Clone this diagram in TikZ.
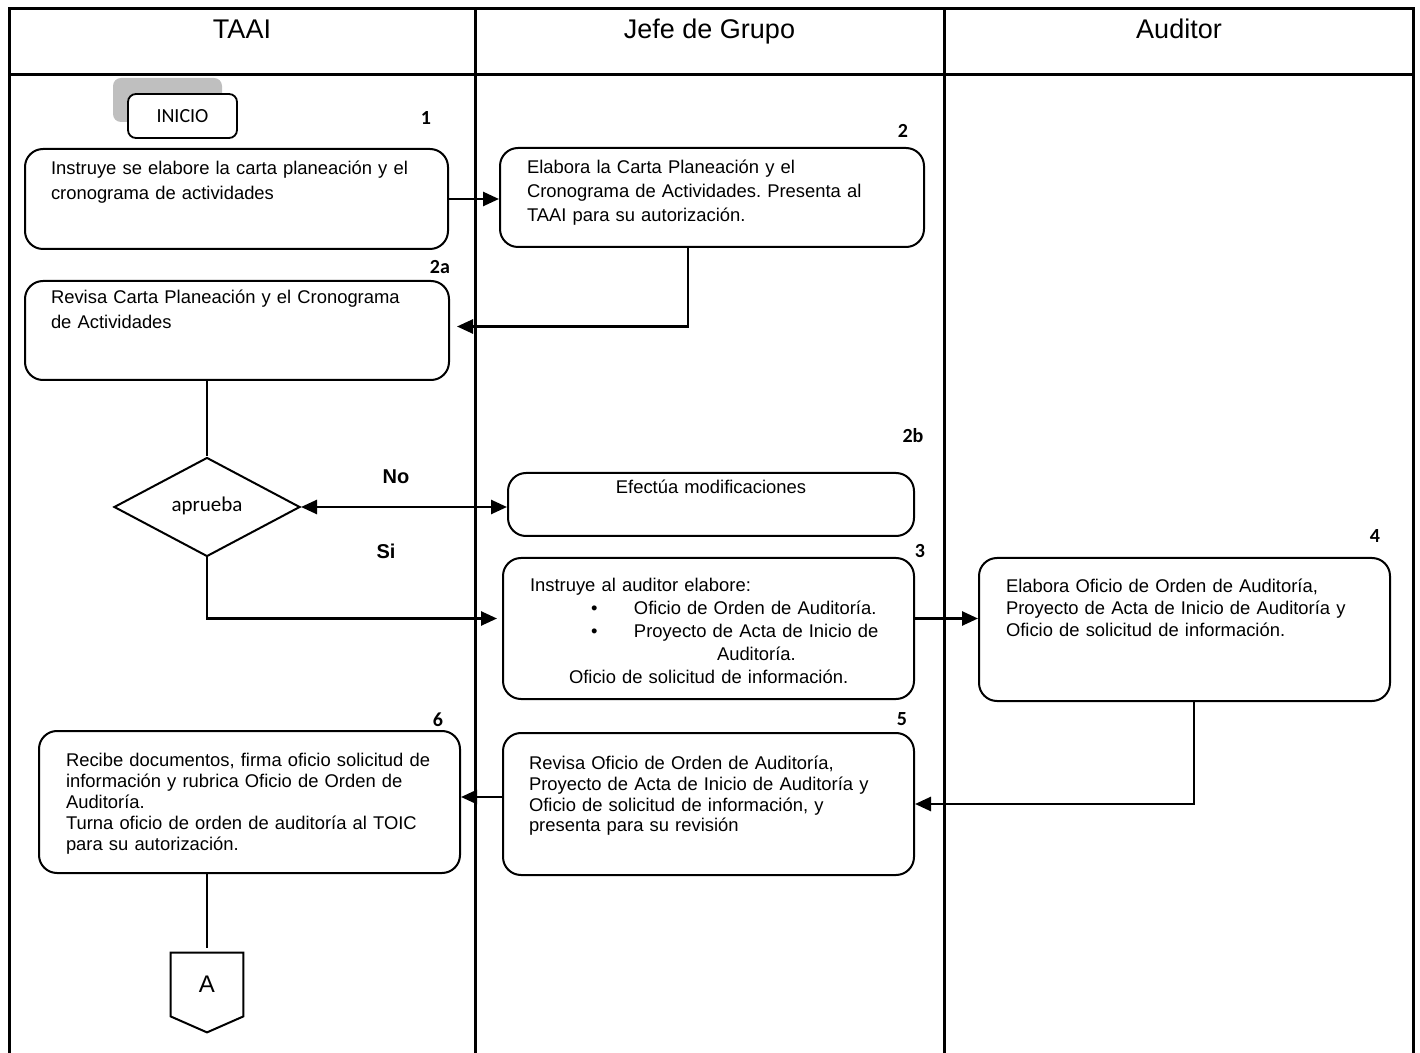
\documentclass[tikz,border=0pt]{standalone}
\usepackage{fontspec}
\setmainfont{Liberation Sans}
\newfontfamily\calibri{Carlito}
\frenchspacing
\usetikzlibrary{shapes.geometric, arrows.meta, shadows}
\tikzstyle{lane} = [line width=1.5pt]
\tikzstyle{lanetitle} = [anchor=base, font=\fontsize{13.5}{16}\selectfont]
\tikzstyle{process} = [
  rectangle,
  rounded corners=9pt,
  anchor=north west,
  align=left,
  inner ysep=0pt,
  draw=black,
  line width=1pt,
  font=\fontsize{9.2}{10.5}\selectfont
]
\tikzstyle{start} = [
  rectangle,
  rounded corners=4pt,
  minimum width=54.5pt,
  minimum height=22pt,
  draw=black,
  fill=white,
  line width=0.9pt,
  drop shadow={shadow xshift=-7.5pt, shadow yshift=8pt, fill=gray!50, opacity=1},
  font=\calibri\fontsize{10}{12}\selectfont
]
\tikzstyle{decision} = [
  diamond,
  minimum width=93pt,
  minimum height=49.5pt,
  inner sep=0pt,
  draw=black,
  line width=1pt,
  font=\calibri\fontsize{10.5}{12}\selectfont
]
\tikzstyle{connector} = [rectangle, minimum width=36pt, minimum height=31.5pt, inner sep=0pt, font=\fontsize{12}{14}\selectfont]
\tikzstyle{stepnum} = [inner sep=0pt, font=\calibri\bfseries\fontsize{10}{12}\selectfont]
\tikzstyle{answer} = [inner sep=0pt, font=\bfseries\fontsize{10}{12}\selectfont]
\tikzstyle{arrow} = [line width=1.3pt, ->, >={Triangle[length=8pt,width=7pt]}]
\tikzstyle{line} = [line width=1pt]

\begin{document}
\begin{tikzpicture}[x=0.5pt, y=-0.5pt]
    \useasboundingbox (0,0) rectangle (1420,1053);
    % swimlanes
    \draw [lane] (9,1053) -- (9,9) -- (1413,9) -- (1413,1053);
    \draw [lane] (9,75) -- (1413,75);
    \draw [lane] (475,9) -- (475,1053);
    \draw [lane] (944,9) -- (944,1053);
    \node (taai) [lanetitle] at (242,39) {TAAI};
    \node (jefe) [lanetitle] at (709.5,39) {Jefe de Grupo};
    \node (auditor) [lanetitle] at (1179,39) {Auditor};

    % steps
    \node (inicio) [start] at (182.5,116) {INICIO};
    \node (instruye) [process, inner xsep=13pt, text width=185.5pt, text height=13pt, text depth=37pt, font=\fontsize{9.2}{12.25}\selectfont] at (24,148)
      {Instruye se elabore la carta planeación y el\\cronograma de actividades};
    \node (elabora) [process, inner xsep=13.5pt, text width=185pt, text height=13pt, text depth=36.5pt, font=\fontsize{9.2}{12}\selectfont] at (499,147)
      {Elabora la Carta Planeación y el\\Cronograma de Actividades. Presenta al\\TAAI para su autorización.};
    \node (revisa) [process, inner xsep=13pt, text width=186pt, text height=11.5pt, text depth=38pt, font=\fontsize{9.2}{12.25}\selectfont] at (24,280)
      {Revisa Carta Planeación y el Cronograma\\de Actividades};
    \node (aprueba) [decision] at (207,507) {\raisebox{3pt}{aprueba}};
    \node (modifica) [process, align=center, inner xsep=10pt, text width=183pt, text height=10.5pt, text depth=21pt] at (507,472)
      {Efectúa modificaciones};
    \node (instruye-auditor) [process, inner xsep=13.5pt, text width=178.5pt, text height=17pt, text depth=53.5pt, font=\fontsize{9.2}{11.5}\selectfont] at (502,557)
      {Instruye al auditor elabore:\\
       \hspace*{30.5pt}\makebox[21.5pt][l]{\textbullet}Oficio de Orden de Auditoría.\\
       \hspace*{30.5pt}\makebox[21.5pt][l]{\textbullet}Proyecto de Acta de Inicio de\\
       \hspace*{93.5pt}Auditoría.\\
       \hspace*{19.5pt}Oficio de solicitud de información.};
    \node (elabora-oficio) [process, inner xsep=13.5pt, text width=178.5pt, text height=17.5pt, text depth=54pt, font=\fontsize{9.2}{11}\selectfont] at (978,557)
      {Elabora Oficio de Orden de Auditoría,\\Proyecto de Acta de Inicio de Auditoría y\\Oficio de solicitud de información.};
    \node (revisa-oficio) [process, inner xsep=13pt, text width=179.5pt, text height=18pt, text depth=53pt] at (502,732)
      {Revisa Oficio de Orden de Auditoría,\\Proyecto de Acta de Inicio de Auditoría y\\Oficio de solicitud de información, y\\presenta para su revisión};
    \node (recibe) [process, inner xsep=13.5pt, text width=183.5pt, text height=17.5pt, text depth=53.5pt] at (38,730)
      {Recibe documentos, firma oficio solicitud de\\información y rubrica Oficio de Orden de\\Auditoría.\\Turna oficio de orden de auditoría al TOIC\\para su autorización.};
    \node (conn-a) [connector] at (207,984.5) {A};
    \draw [line] (conn-a.north west) -- (conn-a.north east) -- (conn-a.south east) -- ([yshift=-8pt]conn-a.south) -- (conn-a.south west) -- cycle;

    % step numbers
    \node (num-1) [stepnum] at (426,118) {1};
    \node (num-2) [stepnum] at (903,131) {2};
    \node (num-2a) [stepnum] at (440,267) {2a};
    \node (num-2b) [stepnum] at (913,436) {2b};
    \node (num-3) [stepnum] at (920,551) {3};
    \node (num-4) [stepnum] at (1375,536) {4};
    \node (num-5) [stepnum] at (902,719) {5};
    \node (num-6) [stepnum] at (438,720) {6};
    \node (no) [answer] at (396,477) {No};
    \node (si) [answer] at (386,551) {Si};

    \draw [arrow] (instruye.east) -- (instruye.east -| elabora.west);
    \draw [arrow, shorten >=3.5pt] ([xshift=-12pt]elabora.south) |- ([yshift=2pt]revisa.east);
    \draw [line] (revisa.south -| aprueba.north) -- (aprueba.north);
    \draw [arrow, <->] (aprueba.east) -- (aprueba.east -| modifica.west);
    \draw [arrow, shorten >=2.5pt] (aprueba.south) |- ([yshift=5pt]instruye-auditor.west);
    \draw [arrow] ([yshift=5pt]instruye-auditor.east) -- ([yshift=5pt]instruye-auditor.east -| elabora-oficio.west);
    \draw [arrow] ([xshift=4.75pt]elabora-oficio.south) |- (revisa-oficio.east);
    \draw [arrow] ([yshift=3.5pt]revisa-oficio.west) -- ([yshift=3.5pt]revisa-oficio.west -| recibe.east);
    \draw [line, shorten >=2.5pt] (recibe.south -| conn-a.north) -- (conn-a.north);
  \end{tikzpicture}
\end{document}
